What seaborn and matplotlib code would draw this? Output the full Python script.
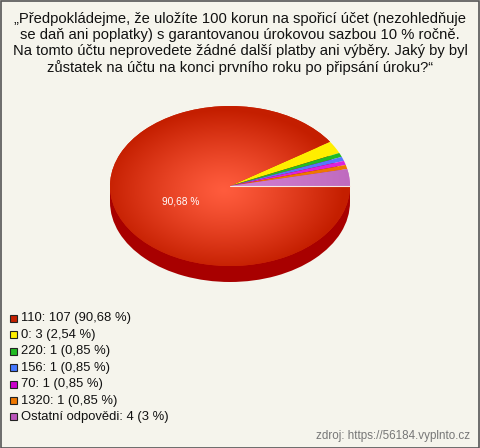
import numpy as np
import matplotlib
matplotlib.use("Agg")
import matplotlib.pyplot as plt
from matplotlib.patches import Rectangle
import seaborn as sns

# ---- data ----
categories = ["110", "0", "220", "156", "70", "1320", "Ostatní odpovědi"]
counts = [107, 3, 1, 1, 1, 1, 4]
pct_labels = ["90,68 %", "2,54 %", "0,85 %", "0,85 %", "0,85 %", "0,85 %", "3 %"]
colors = ["#d42a0e", "#ffee00", "#22bb22", "#5577ff", "#dd22dd", "#ee7700", "#d07ad0"]
legend_colors = ["#c42000", "#ffee00", "#22bb22", "#4477ff", "#cc00cc", "#ee7700", "#bb55bb"]
title_lines = ["„Předpokládejme, že uložíte 100 korun na spořicí účet (nezohledňuje",
               "se daň ani poplatky) s garantovanou úrokovou sazbou 10 % ročně.",
               "Na tomto účtu neprovedete žádné další platby ani výběry. Jaký by byl",
               "zůstatek na účtu na konci prvního roku po připsání úroku?“"]
source = "zdroj: https://56184.vyplnto.cz"

sns.set_theme(style="white")
plt.rcParams["font.family"] = ["Liberation Sans", "DejaVu Sans"]

BG = "#f5f4ec"
W, H = 480, 448
fig = plt.figure(figsize=(W / 100, H / 100), dpi=100)
fig.patch.set_facecolor(BG)

# border
fig.patches.append(Rectangle((0.5 / W, 0.5 / H), 1 - 1.5 / W, 1 - 1.5 / H,
                             transform=fig.transFigure, fill=False,
                             edgecolor="#555555", linewidth=1.2))

# ---- pie axes (pixel-placed ellipse) ----
cx, cy_top, rx, ry, depth = 230, 186, 120, 80, 16
left = (cx - rx) / W
width = 2 * rx / W
top_px = cy_top - ry
bot_px = cy_top + ry + depth
ax = fig.add_axes([left, (H - bot_px) / H, width, (bot_px - top_px) / H])
d = depth / ry

# side (depth)
ax.pie([1], radius=1, center=(0, -d), colors=["#a80000"], startangle=0,
       wedgeprops=dict(linewidth=0))
ax.add_patch(Rectangle((-1, -d), 2, d, facecolor="#a80000", linewidth=0, zorder=1))

wedges, _ = ax.pie(counts, radius=1, center=(0, 0), colors=colors,
                   startangle=0, counterclock=False,
                   wedgeprops=dict(linewidth=0))
for w in wedges:
    w.set_zorder(2)

# radial gradient on largest slice
n = 300
xs = np.linspace(-1, 1, n)
ys = np.linspace(-1, 1, n)
X, Y = np.meshgrid(xs, ys)
R = np.clip(np.sqrt((X + 0.05) ** 2 + (Y + 0.05) ** 2), 0, 1)
c0 = np.array([1.0, 0.36, 0.24])
c1 = np.array([0.77, 0.12, 0.0])
t = R[..., None] ** 1.2
img = c0 * (1 - t) + c1 * t
im = ax.imshow(img, extent=(-1, 1, -1, 1), origin="lower", zorder=3,
               interpolation="bilinear")

# gradient on "others" slice
g = np.linspace(0, 1, n)
cA = np.array([0.90, 0.58, 0.90])
cB = np.array([0.75, 0.42, 0.75])
img2 = np.tile((cA * (1 - g[:, None]) + cB * g[:, None])[None, :, :], (n, 1, 1))
im2 = ax.imshow(img2, extent=(-1, 1, -1, 1), origin="lower", zorder=3,
                interpolation="bilinear")

# thin separator at 0 deg
ax.plot([0, 1], [0, 0], color="#f8e8e0", lw=0.8, zorder=4)

ax.set_aspect("auto")
ax.set_xlim(-1, 1)
ax.set_ylim(-1 - d, 1)
ax.axis("off")
for a in ax.get_children():
    try:
        a.set_clip_on(False)
    except Exception:
        pass
im.set_clip_on(True); im.set_clip_path(wedges[0])
im2.set_clip_on(True); im2.set_clip_path(wedges[-1])

# percentage label
fig.text(180.5 / W, 1 - 201 / H, pct_labels[0], color="white", fontsize=7.3,
         ha="center", va="center")

# title
for i, line in enumerate(title_lines):
    fig.text(240 / W, 1 - (19 + 16.2 * i) / H, line, ha="center", va="center",
             fontsize=10.6, color="#111111")

# legend
y0, dy = 318.5, 16.4
for i, (cat, cnt, pl, col) in enumerate(zip(categories, counts, pct_labels, legend_colors)):
    yy = y0 + i * dy
    fig.patches.append(Rectangle((10 / W, 1 - (yy + 3.5) / H), 7 / W, 7 / H,
                                 transform=fig.transFigure, facecolor=col,
                                 edgecolor="#222222", linewidth=0.8))
    fig.text(21 / W, 1 - yy / H, f"{cat}: {cnt} ({pl})", ha="left", va="center",
             fontsize=9.4, color="#111111")

fig.text(470 / W, 1 - 436 / H, source, ha="right", va="center", fontsize=8.4,
         color="#777777")

fig.savefig("out.png", dpi=100, facecolor=BG)
